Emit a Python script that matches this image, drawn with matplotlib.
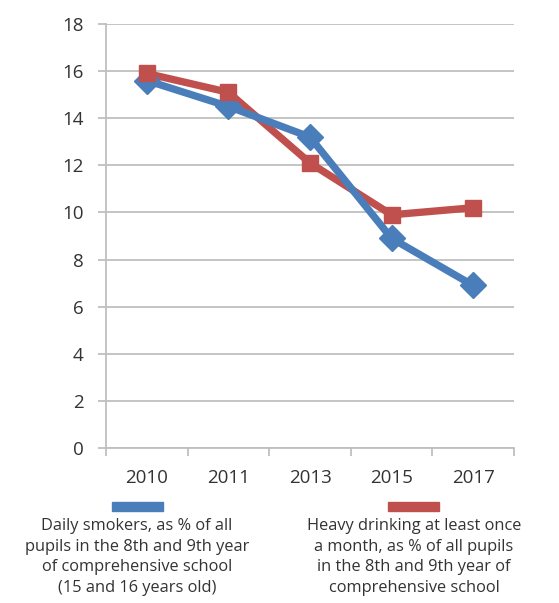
import matplotlib

matplotlib.use("Agg")
import matplotlib.pyplot as plt
from matplotlib.patches import Rectangle

# 数据
years = ["2010", "2011", "2013", "2015", "2017"]
smokers = [15.6, 14.5, 13.2, 8.9, 6.9]
drinking = [15.9, 15.1, 12.1, 9.9, 10.2]
y_ticks = [0, 2, 4, 6, 8, 10, 12, 14, 16, 18]

smokers_label = ("Daily smokers, as % of all\npupils in the 8th and 9th year\n"
                 "of comprehensive school\n(15 and 16 years old)")
drinking_label = ("Heavy drinking at least once\na month, as % of all pupils\n"
                  "in the 8th and 9th year of\ncomprehensive school")

blue = "#4A7EBB"
red = "#C0504D"
grid_c = "#BFBFBF"
text_c = "#333333"

plt.rcParams["font.family"] = ["Open Sans", "DejaVu Sans"]

fig = plt.figure(figsize=(5.59, 6.03), dpi=100)
ax = fig.add_axes([106 / 559, 1 - 448 / 603, 408 / 559, 424 / 603])

x = list(range(len(years)))

# 先画线，再画标记
ax.plot(x, drinking, color=red, lw=5.3, solid_joinstyle="miter", zorder=3)
ax.plot(x, smokers, color=blue, lw=5.3, solid_joinstyle="miter", zorder=4)
ax.plot(x, smokers, ls="none", marker="D", ms=13, color=blue, zorder=5)
ax.plot(x, drinking, ls="none", marker="s", ms=12, color=red, zorder=6)

ax.set_xlim(-0.5, len(years) - 0.5)
ax.set_ylim(0, 18)
ax.set_yticks(y_ticks)
ax.set_xticks(x)
ax.set_xticklabels(years)
ax.set_xticks([i - 0.5 for i in range(len(years) + 1)], minor=True)

ax.grid(axis="y", color=grid_c, lw=1.3)
ax.set_axisbelow(True)
for side in ["top", "right"]:
    ax.spines[side].set_visible(False)
for side in ["left", "bottom"]:
    ax.spines[side].set_color(grid_c)
    ax.spines[side].set_linewidth(1.3)

ax.tick_params(axis="y", length=6, width=1.3, color=grid_c, labelsize=13.5,
               labelcolor=text_c, pad=10)
ax.tick_params(axis="x", which="major", length=0, labelsize=13.5,
               labelcolor=text_c, pad=15)
ax.tick_params(axis="x", which="minor", length=6, width=1.3, color=grid_c)

# 图例：色块 + 说明文字
fig.add_artist(Rectangle((112 / 559, 1 - 511 / 603), 51 / 559, 9 / 603,
                         color=blue, transform=fig.transFigure))
fig.add_artist(Rectangle((388 / 559, 1 - 511 / 603), 51 / 559, 9 / 603,
                         color=red, transform=fig.transFigure))
fig.text(137 / 559, 1 - 518 / 603, smokers_label, ha="center", va="top",
         fontsize=11.8, color=text_c, linespacing=1.38)
fig.text(414 / 559, 1 - 518 / 603, drinking_label, ha="center", va="top",
         fontsize=11.8, color=text_c, linespacing=1.38)

fig.savefig("out.png", dpi=100)
plt.close(fig)
